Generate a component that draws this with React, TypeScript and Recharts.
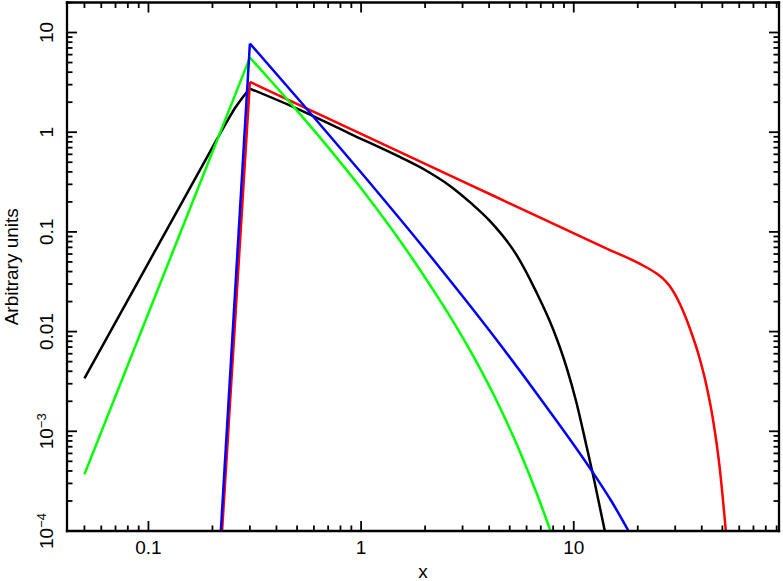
import React from 'react';
import { LineChart, Line, XAxis, YAxis } from 'recharts';

const FONT = '"Liberation Sans", Arial, Helvetica, sans-serif';

// ---- data ----
const blackX = [0.05, 0.1, 0.15, 0.2, 0.23, 0.255, 0.275, 0.3, 0.479, 0.884, 1.52, 2.0, 2.61, 3.3, 4.03, 5.37, 6.67, 7.98, 9.22, 10.28, 11.45, 12.45, 14.0];
const blackY = [3.4e-3, 0.049, 0.232, 0.705, 1.2, 1.74, 2.18, 2.74, 1.795, 0.97, 0.565, 0.418, 0.291, 0.193, 0.129, 0.0592, 0.0249, 0.0107, 0.00449, 0.00197, 7.3e-4, 3.3e-4, 1e-4];

const redX = [0.222, 0.3, 1, 3, 7.16, 14.2, 20.4, 24.4, 26.3, 28.2, 29.8, 31.5, 35.1, 39.1, 42, 45.1, 48.5, 51.9];
const redY = [1e-4, 3.2, 0.961, 0.322, 0.135, 0.0685, 0.048, 0.0385, 0.034, 0.0288, 0.024, 0.0191, 0.01086, 0.00537, 0.00293, 0.001337, 4.43e-4, 1e-4];

const greenX = [0.05, 0.3, 0.479, 0.7, 1.0, 1.4, 1.82, 2.34, 2.8, 3.36, 4.49, 5.57, 6.67, 7.78];
const greenY = [3.7e-4, 5.6, 1.824, 0.705, 0.274, 0.105, 0.0471, 0.0208, 0.01122, 0.00573, 0.00174, 6.3e-4, 2.43e-4, 1e-4];

const blueX = [0.219, 0.3, 0.533, 1, 2.34, 4.03, 6.92, 12.45, 15, 18.1];
const blueY = [1e-4, 7.76, 1.895, 0.394, 0.044, 0.01014, 0.00217, 3.72e-4, 2.01e-4, 1e-4];

// ---- axes ----
const X_DOMAIN: [number, number] = [0.0414, 92.3];
const Y_DOMAIN: [number, number] = [1e-4, 20];

const xTicks = [
  0.05, 0.06, 0.07, 0.08, 0.09,
  0.1, 0.2, 0.3, 0.4, 0.5, 0.6, 0.7, 0.8, 0.9,
  1, 2, 3, 4, 5, 6, 7, 8, 9,
  10, 20, 30, 40, 50, 60, 70, 80, 90,
];
const yTicks = [
  1e-4, 2e-4, 3e-4, 4e-4, 5e-4, 6e-4, 7e-4, 8e-4, 9e-4,
  1e-3, 2e-3, 3e-3, 4e-3, 5e-3, 6e-3, 7e-3, 8e-3, 9e-3,
  0.01, 0.02, 0.03, 0.04, 0.05, 0.06, 0.07, 0.08, 0.09,
  0.1, 0.2, 0.3, 0.4, 0.5, 0.6, 0.7, 0.8, 0.9,
  1, 2, 3, 4, 5, 6, 7, 8, 9,
  10, 20,
];

const xLabelValues = [0.1, 1, 10];
const xLabelTexts = ['0.1', '1', '10'];
const yLabelValues = [10, 1, 0.1, 0.01, 1e-3, 1e-4];
const yLabelBase = ['10', '1', '0.1', '0.01', '10', '10'];
const yLabelExp = ['', '', '', '', '\u22123', '\u22124'];

const MAJOR_LEN = 10;
const MINOR_LEN = 5.5;
const TICK_W = 1.8;
const FS = 19;
const LINE_W = 2.5;

const isMajor = (v: number) => {
  const l = Math.log10(v);
  return Math.abs(l - Math.round(l)) < 1e-6;
};
const findIdx = (arr: number[], v: number) => arr.findIndex((a) => Math.abs(a - v) / a < 1e-6);

const BottomTick = (props: any) => {
  const { x, y, payload } = props;
  const v = payload.value;
  const len = isMajor(v) ? MAJOR_LEN : MINOR_LEN;
  const idx = findIdx(xLabelValues, v);
  return (
    <g>
      <line x1={x} y1={y} x2={x} y2={y - len} stroke="#000" strokeWidth={TICK_W} />
      {idx >= 0 && (
        <text x={x} y={y + 23} textAnchor="middle" fontSize={FS} fontFamily={FONT} fill="#000">
          {xLabelTexts[idx]}
        </text>
      )}
    </g>
  );
};

const TopTick = (props: any) => {
  const { x, y, payload } = props;
  const len = isMajor(payload.value) ? MAJOR_LEN : MINOR_LEN;
  return <line x1={x} y1={y} x2={x} y2={y + len} stroke="#000" strokeWidth={TICK_W} />;
};

const LeftTick = (props: any) => {
  const { x, y, payload } = props;
  const v = payload.value;
  const len = isMajor(v) ? MAJOR_LEN : MINOR_LEN;
  const idx = findIdx(yLabelValues, v);
  const tx = x - 14.3;
  return (
    <g>
      <line x1={x} y1={y} x2={x + len} y2={y} stroke="#000" strokeWidth={TICK_W} />
      {idx >= 0 && (
        <text
          x={tx}
          y={y}
          transform={`rotate(-90 ${tx} ${y})`}
          textAnchor="middle"
          fontSize={FS}
          fontFamily={FONT}
          fill="#000"
        >
          {yLabelBase[idx]}
          {yLabelExp[idx] && (
            <tspan dy={-7} fontSize={13}>
              {yLabelExp[idx]}
            </tspan>
          )}
        </text>
      )}
    </g>
  );
};

const RightTick = (props: any) => {
  const { x, y, payload } = props;
  const len = isMajor(payload.value) ? MAJOR_LEN : MINOR_LEN;
  return <line x1={x} y1={y} x2={x - len} y2={y} stroke="#000" strokeWidth={TICK_W} />;
};

const XTitle = (props: any) => {
  const vb = props.viewBox || { x: 67, y: 531, width: 712, height: 50 };
  return (
    <text x={vb.x + vb.width / 2} y={vb.y + 46.5} textAnchor="middle" fontSize={FS} fontFamily={FONT} fill="#000">
      x
    </text>
  );
};

const YTitle = (props: any) => {
  const vb = props.viewBox || { x: 0, y: 2.5, width: 67, height: 528.5 };
  const cx = vb.x + 17.5;
  const cy = vb.y + vb.height / 2;
  return (
    <text x={cx} y={cy} transform={`rotate(-90 ${cx} ${cy})`} textAnchor="middle" fontSize={FS} fontFamily={FONT} fill="#000">
      Arbitrary units
    </text>
  );
};

const axisLineStyle = { stroke: '#000', strokeWidth: 2.3, strokeLinecap: 'square' as const };

const toPoints = (xs: number[], ys: number[]) => xs.map((x, i) => ({ x, y: ys[i] }));
// split each curve at its peak so the sharp corner is kept while each side is drawn smoothly
const splitAtPeak = (xs: number[], ys: number[]) => {
  const pts = toPoints(xs, ys);
  const p = ys.indexOf(Math.max(...ys));
  return { rise: pts.slice(0, p + 1), fall: pts.slice(p) };
};

const SERIES = [
  { name: 'black', color: '#000000', xs: blackX, ys: blackY },
  { name: 'red', color: '#ff0000', xs: redX, ys: redY },
  { name: 'green', color: '#00ff00', xs: greenX, ys: greenY },
  { name: 'blue', color: '#0000ff', xs: blueX, ys: blueY },
];

export default function App() {
  const frameData = toPoints(blackX, blackY);
  return (
    <div style={{ position: 'absolute', left: 0, top: 0, width: 783, height: 581, background: '#fff' }}>
      <LineChart width={783} height={581} margin={{ top: 1.5, right: 3, bottom: 0, left: 0 }}>
        <XAxis
          xAxisId="b"
          dataKey="x"
          type="number"
          scale="log"
          domain={X_DOMAIN}
          allowDataOverflow
          ticks={xTicks}
          interval={0}
          tick={<BottomTick />}
          tickSize={0}
          tickMargin={0}
          tickLine={false}
          axisLine={axisLineStyle}
          height={50}
          label={<XTitle />}
        />
        <XAxis
          xAxisId="t"
          orientation="top"
          dataKey="x"
          type="number"
          scale="log"
          domain={X_DOMAIN}
          allowDataOverflow
          ticks={xTicks}
          interval={0}
          tick={<TopTick />}
          tickSize={0}
          tickMargin={0}
          tickLine={false}
          axisLine={axisLineStyle}
          height={1}
        />
        <YAxis
          yAxisId="l"
          dataKey="y"
          type="number"
          scale="log"
          domain={Y_DOMAIN}
          allowDataOverflow
          ticks={yTicks}
          interval={0}
          tick={<LeftTick />}
          tickSize={0}
          tickMargin={0}
          tickLine={false}
          axisLine={axisLineStyle}
          width={67}
          label={<YTitle />}
        />
        <YAxis
          yAxisId="r"
          orientation="right"
          dataKey="y"
          type="number"
          scale="log"
          domain={Y_DOMAIN}
          allowDataOverflow
          ticks={yTicks}
          interval={0}
          tick={<RightTick />}
          tickSize={0}
          tickMargin={0}
          tickLine={false}
          axisLine={axisLineStyle}
          width={1}
        />
        {/* invisible series binding the mirrored frame axes */}
        <Line
          xAxisId="t"
          yAxisId="r"
          data={frameData}
          dataKey="y"
          stroke="none"
          strokeWidth={0}
          dot={false}
          activeDot={false}
          legendType="none"
          isAnimationActive={false}
        />
        {SERIES.map((s) => {
          const { rise, fall } = splitAtPeak(s.xs, s.ys);
          return [
            <Line
              key={s.name + '-rise'}
              xAxisId="b"
              yAxisId="l"
              data={rise}
              dataKey="y"
              type="monotoneX"
              stroke={s.color}
              strokeWidth={LINE_W}
              strokeLinejoin="round"
              dot={false}
              activeDot={false}
              isAnimationActive={false}
            />,
            <Line
              key={s.name + '-fall'}
              xAxisId="b"
              yAxisId="l"
              data={fall}
              dataKey="y"
              type="monotoneX"
              stroke={s.color}
              strokeWidth={LINE_W}
              strokeLinejoin="round"
              dot={false}
              activeDot={false}
              isAnimationActive={false}
            />,
          ];
        })}
      </LineChart>
    </div>
  );
}
